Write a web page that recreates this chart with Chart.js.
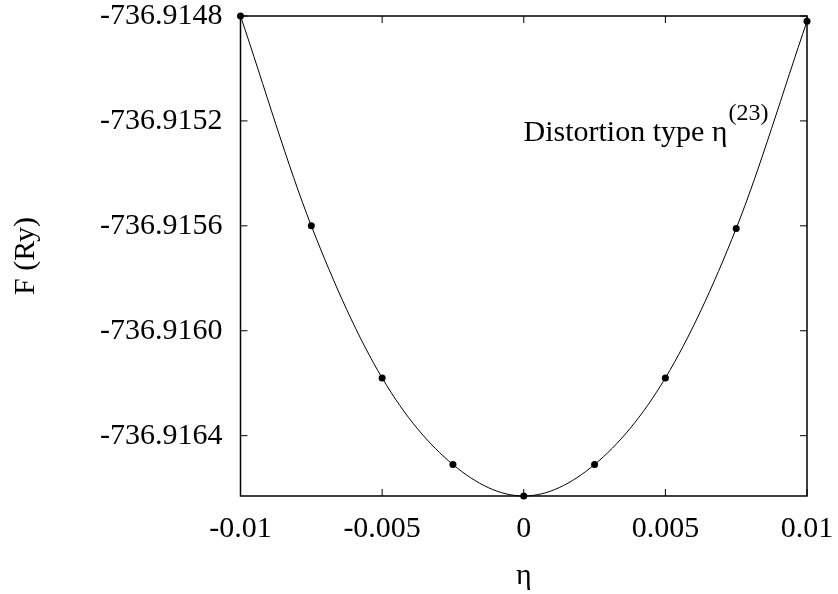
<!DOCTYPE html>
<html lang="en">
<head>
  <meta charset="utf-8">
  <title>Free energy vs strain</title>
  <script type="text/javascript" src="https://cdn.jsdelivr.net/npm/chart.js"></script>
  <style type="text/css">
    html, body { margin: 0; padding: 0; background: #fff; }
    #wrap { width: 838px; height: 594px; }
  </style>
</head>
<body>

  <div id="wrap">
    <canvas id="chart" width="838" height="594"></canvas>
  </div>

  <script type="text/javascript">
    const etaValues = [-0.01, -0.0075, -0.005, -0.0025, 0, 0.0025, 0.005, 0.0075, 0.01];
    const energyValues = [-736.91480, -736.91560, -736.91618, -736.91651, -736.91663, -736.91651, -736.91618, -736.91561, -736.91482];
    const xTicks = [-0.01, -0.005, 0, 0.005, 0.01];
    const xTickLabels = ['-0.01', '-0.005', '0', '0.005', '0.01'];
    const yTicks = [-736.9148, -736.9152, -736.9156, -736.9160, -736.9164];
    const yTickLabels = ['-736.9148', '-736.9152', '-736.9156', '-736.9160', '-736.9164'];

    const serif = '"Liberation Serif", "DejaVu Serif", serif';

    // box around the plot plus short inward ticks on all four sides
    const framePlugin = {
      id: 'frame',
      afterDatasetsDraw(chart) {
        const { ctx, chartArea: a, scales } = chart;
        const len = 7;
        ctx.save();
        ctx.strokeStyle = '#000';
        ctx.lineWidth = 1.5;
        ctx.strokeRect(a.left, a.top, a.right - a.left, a.bottom - a.top);
        ctx.beginPath();
        xTicks.forEach(v => {
          const px = scales.x.getPixelForValue(v);
          ctx.moveTo(px, a.bottom); ctx.lineTo(px, a.bottom - len);
          ctx.moveTo(px, a.top); ctx.lineTo(px, a.top + len);
        });
        yTicks.forEach(v => {
          const py = scales.y.getPixelForValue(v);
          ctx.moveTo(a.left, py); ctx.lineTo(a.left + len, py);
          ctx.moveTo(a.right, py); ctx.lineTo(a.right - len, py);
        });
        ctx.lineWidth = 1;
        ctx.stroke();

        // label with superscript
        ctx.fillStyle = '#000';
        ctx.textBaseline = 'alphabetic';
        ctx.font = '30px ' + serif;
        const main = 'Distortion type \u03b7';
        const x0 = a.left + 283, y0 = a.top + 125;
        ctx.fillText(main, x0, y0);
        const w = ctx.measureText(main).width;
        ctx.font = '24px ' + serif;
        ctx.fillText('(23)', x0 + w + 1, y0 - 21);
        ctx.restore();
      }
    };

    new Chart(document.getElementById('chart'), {
      type: 'line',
      data: {
        datasets: [{
          data: etaValues.map((x, i) => ({ x, y: energyValues[i] })),
          borderColor: '#000',
          borderWidth: 1,
          backgroundColor: '#000',
          pointRadius: 3.5,
          pointBorderWidth: 0,
          cubicInterpolationMode: 'monotone',
          clip: false
        }]
      },
      options: {
        responsive: false,
        animation: false,
        layout: { padding: { top: 16, right: 31, left: 0, bottom: 0 } },
        plugins: { legend: { display: false }, tooltip: { enabled: false } },
        scales: {
          x: {
            type: 'linear',
            min: -0.01,
            max: 0.01,
            afterBuildTicks: s => { s.ticks = xTicks.map(v => ({ value: v })); },
            afterFit: s => { s.height = 98; s.paddingLeft = 0; s.paddingRight = 0; },
            grid: { display: false, drawTicks: false },
            border: { display: false },
            ticks: {
              color: '#000',
              padding: 15,
              maxRotation: 0,
              font: { family: serif, size: 30 },
              callback: (v, i) => xTickLabels[i]
            },
            title: {
              display: true,
              text: '\u03b7',
              color: '#000',
              font: { family: serif, size: 30 },
              padding: { top: 6, bottom: 0 }
            }
          },
          y: {
            type: 'linear',
            min: -736.91663,
            max: -736.9148,
            afterBuildTicks: s => { s.ticks = yTicks.map(v => ({ value: v })); },
            afterFit: s => { s.width = 240.5; s.paddingTop = 0; s.paddingBottom = 0; },
            grid: { display: false, drawTicks: false },
            border: { display: false },
            ticks: {
              color: '#000',
              padding: 18,
              font: { family: serif, size: 30 },
              callback: (v, i) => yTickLabels[i]
            },
            title: {
              display: true,
              text: 'F (Ry)',
              color: '#000',
              font: { family: serif, size: 30 },
              padding: { top: 8, bottom: 0 }
            }
          }
        }
      },
      plugins: [framePlugin]
    });
  </script>

</body>
</html>
